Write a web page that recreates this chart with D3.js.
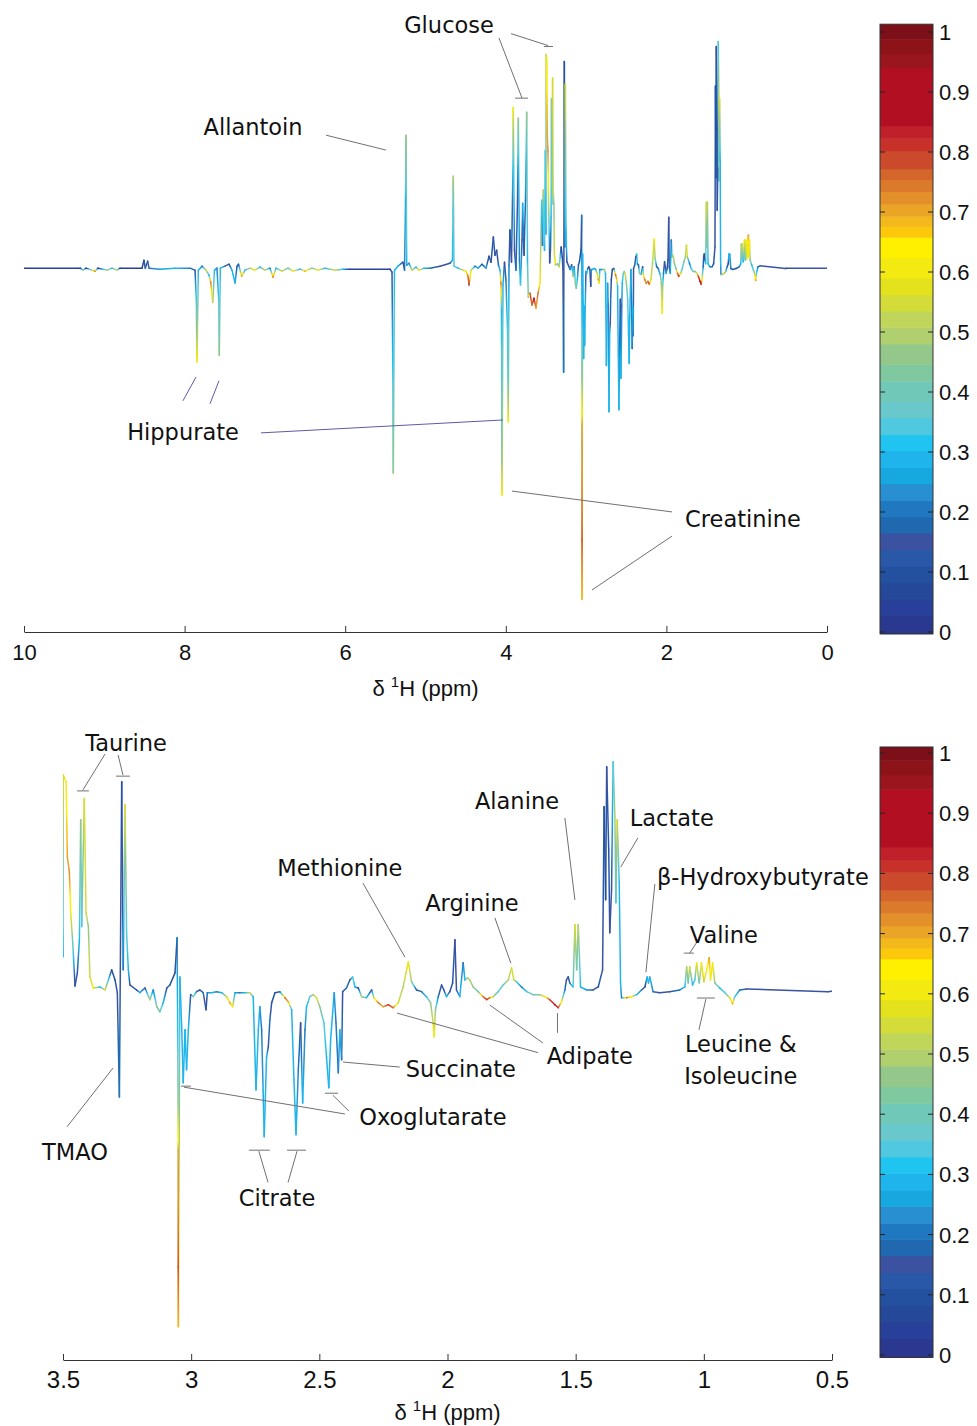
<!DOCTYPE html>
<html>
<head>
<meta charset="utf-8">
<script src="https://cdn.jsdelivr.net/npm/d3@7"></script>
<style>
  body { margin: 0; background: #fff; }
  svg { display: block; font-family: "Liberation Sans", Arial, sans-serif; }
  .note { font-family: "DejaVu Sans", sans-serif; font-size: 22.5px; fill: #111; }
</style>
</head>
<body>
<svg id="chart" width="977" height="1426"></svg>
<script>
// spectrum points: [ppm, intensity (creatinine trough = -100), correlation]
const aromatic = [
  [10.0, 0, .05], [9.30, 0, .05], [9.265, -0.6, .5], [9.228, 0, .05], [9.116, -0.9, .75], [9.078, 0, .05],
  [8.966, -0.6, .5], [8.904, 0, .3], [8.842, -0.6, .55], [8.804, 0, .05], [8.53, 0, .05], [8.506, 2.4, .1],
  [8.49, 0, .15], [8.46, 2.1, .1], [8.443, 0, .2], [8.306, -0.3, .25], [8.12, 0, .3], [7.933, 0, .2],
  [7.87, -0.6, .15], [7.854, -9.7, .35], [7.849, -21.8, .5], [7.846, -28.4, .62], [7.829, -0.6, .3],
  [7.783, 0.6, .2], [7.733, -0.6, .55], [7.696, -2.1, .3], [7.675, -4.2, .75], [7.65, -10.3, .5],
  [7.628, -0.6, .3], [7.597, 0, .2], [7.575, -9.7, .35], [7.568, -26.3, .45], [7.555, 0, .3],
  [7.497, 0.6, .2], [7.447, 1.2, .1], [7.41, -0.6, .3], [7.372, -4.5, .3], [7.347, 0.6, .15],
  [7.329, 1.2, .1], [7.289, -2.4, .72], [7.248, -0.6, .3], [7.186, 0, .5], [7.124, -0.6, .6],
  [7.061, 0.3, .3], [6.999, -0.6, .55], [6.937, 0, .2], [6.899, -2.7, .75], [6.862, 0, .3],
  [6.787, -0.9, .55], [6.712, 0, .4], [6.65, -0.9, .6], [6.563, -0.3, .3], [6.501, -0.9, .7],
  [6.413, 0, .4], [6.339, -0.6, .6], [6.252, 0, .3], [6.127, -0.6, .55], [6.027, -0.3, .3],
  [5.94, -0.3, .05], [5.442, -0.3, .05]
];

const sugars = [
  [5.417, -1.2, .15], [5.409, -24.8, .3], [5.405, -45.9, .4], [5.401, -61.9, .45], [5.386, -0.6, .3],
  [5.343, 0.6, .3], [5.28, 1.8, .1], [5.261, -0.6, .2], [5.249, 20.5, .3], [5.243, 40.2, .45],
  [5.234, 0.9, .3], [5.206, 1.5, .15], [5.168, -0.6, .55], [5.118, 0.3, .3], [5.081, -0.6, .6],
  [5.019, 0, .3], [4.944, 0, .2], [4.819, 0.6, .15], [4.695, 1.5, .15], [4.664, 2.4, .3],
  [4.658, 17.5, .35], [4.654, 27.8, .5], [4.645, 0.6, .35], [4.595, 0, .3], [4.533, -0.6, .55],
  [4.496, -0.9, .6], [4.471, -2.4, .75], [4.458, -5.1, .78], [4.433, -0.6, .55], [4.384, 0.6, .2],
  [4.346, 0, .3], [4.296, 1.2, .15], [4.246, 0, .25], [4.209, 3.6, .1], [4.184, 1.8, .15],
  [4.155, 9.4, .1], [4.135, 3.9, .15], [4.114, 5.4, .1], [4.091, 0.9, .2], [4.072, -0.6, .3],
  [4.06, -4.5, .75], [4.054, -12.7, .3], [4.051, -32.9, .35], [4.05, -58.9, .45], [4.047, -68.6, .62],
  [4.035, -5.1, .3], [4.016, 1.8, .15], [3.998, -3.6, .2], [3.979, -18.7, .35], [3.973, -32.9, .35],
  [3.969, -46.5, .6], [3.96, 0.9, .2], [3.948, 11.5, .1], [3.929, 1.8, .15], [3.917, 20.5, .2],
  [3.91, 32.6, .35], [3.907, 48.6, .6], [3.892, 5.4, .15], [3.873, -0.6, .2], [3.854, 20.5, .15],
  [3.844, 45.3, .45], [3.83, 2.4, .2], [3.817, -5.1, .35], [3.798, 8.5, .15], [3.79, 19.6, .3],
  [3.773, 3.9, .15], [3.755, 20.5, .2], [3.74, 47.1, .45], [3.73, 2.4, .3], [3.72, -8.8, .45],
  [3.699, -7.6, .8], [3.674, -11.2, .75], [3.649, -9.1, .85], [3.624, -12.1, .7], [3.599, -7.6, .75],
  [3.574, -4.5, .6], [3.553, 20.5, .35], [3.543, 6.9, .2], [3.533, 23.6, .5], [3.518, 5.4, .3],
  [3.508, 35.6, .35]
];

const aliphatic = [
  [3.500, 10.3, .3], [3.499, 64.6, .55], [3.488, 62.5, .62], [3.483, 40.1, .7], [3.475, 35.4, .72],
  [3.470, 23.4, .6], [3.462, 14.5, .4], [3.453, 1.6, .1], [3.444, 5.5, .15], [3.436, 15.4, .3],
  [3.431, 51.2, .45], [3.427, 19.3, .35], [3.417, 57.5, .55], [3.410, 23.4, .55], [3.401, 19.3, .45],
  [3.395, 4.3, .55], [3.382, 1.0, .6], [3.356, 1.3, .3], [3.336, 0.4, .55], [3.310, 6.4, .1],
  [3.297, 3.4, .1], [3.288, -0.4, .15], [3.280, -31.5, .2], [3.271, 62.5, .1], [3.265, 6.4, .2],
  [3.258, 55.7, .55], [3.252, 17.5, .35], [3.245, 6.4, .3], [3.239, 1.9, .15], [3.213, 0.4, .1],
  [3.200, -0.4, .3], [3.180, 1.0, .15], [3.161, -2.5, .5], [3.148, 0.4, .2], [3.134, -4.6, .45],
  [3.122, -6.1, .4], [3.109, -3.4, .3], [3.095, 1.0, .15], [3.083, 1.9, .1], [3.063, 5.5, .1],
  [3.055, 16.0, .2], [3.052, -17.5, .35], [3.051, -33.3, .45], [3.0508, -47.3, .7], [3.0506, -82.2, .78],
  [3.050, -100.1, .68], [3.044, 4.3, .3], [3.037, -10.6, .3], [3.031, -27.3, .3], [3.024, -11.5, .3],
  [3.018, -23.4, .3], [3.011, -11.5, .3], [3.002, -1.0, .15], [2.992, -1.6, .45], [2.979, -0.1, .2],
  [2.966, 0.4, .1], [2.953, -0.4, .2], [2.942, -5.5, .1], [2.937, -0.4, .2], [2.920, -0.4, .3],
  [2.901, -0.1, .2], [2.881, -0.4, .3], [2.862, -1.6, .55], [2.849, -3.4, .7], [2.838, -4.6, .6],
  [2.829, -0.4, .25], [2.810, -0.4, .2], [2.790, -0.4, .3], [2.771, -0.4, .55], [2.758, -1.6, .3],
  [2.747, -29.4, .3], [2.738, -11.5, .3], [2.732, -4.6, .25], [2.725, -11.5, .2], [2.715, -43.4, .3],
  [2.706, -19.6, .3], [2.699, -16.6, .15], [2.693, -8.5, .2], [2.686, -3.4, .1], [2.673, -0.4, .1],
  [2.654, -0.1, .2], [2.634, -1.9, .75], [2.621, -3.1, .7], [2.608, -5.5, .3], [2.599, -26.4, .3],
  [2.591, -42.8, .3], [2.582, -23.4, .2], [2.573, -9.4, .15], [2.565, -33.3, .3], [2.556, -11.5, .2],
  [2.550, -4.6, .3], [2.537, -1.6, .35], [2.524, -1.0, .5], [2.511, -1.9, .55], [2.498, -4.6, .45],
  [2.482, -9.4, .35], [2.472, -19.6, .3], [2.463, -28.8, .3], [2.456, -14.5, .3], [2.448, -6.4, .3],
  [2.442, -0.4, .25], [2.435, -9.4, .2], [2.426, -24.3, .2], [2.420, -11.5, .3], [2.413, -20.4, .2],
  [2.409, -0.1, .15], [2.394, 1.0, .2], [2.381, 3.4, .15], [2.370, 4.3, .35], [2.361, 1.3, .3],
  [2.348, 1.0, .1], [2.335, -1.6, .5], [2.316, -1.9, .3], [2.296, 0.4, .15], [2.287, -1.9, .55],
  [2.270, -3.4, .75], [2.251, -4.6, .7], [2.231, -4.0, .8], [2.212, -4.9, .75], [2.192, -3.4, .55],
  [2.173, 1.3, .5], [2.153, 8.8, .6], [2.140, 2.8, .45], [2.121, 0.4, .15], [2.101, -0.1, .2],
  [2.082, -1.6, .3], [2.066, -3.4, .45], [2.056, -9.4, .55], [2.052, -13.6, .62], [2.047, -5.5, .45],
  [2.036, -1.6, .2], [2.023, 1.9, .1], [2.014, 0.4, .15], [2.004, -1.6, .3], [1.991, -0.1, .15],
  [1.980, 2.5, .1], [1.971, 15.4, .15], [1.965, 0.4, .15], [1.952, -1.6, .3], [1.939, 8.5, .2],
  [1.932, 3.4, .3], [1.922, 4.0, .5], [1.913, 3.4, .5], [1.900, 1.3, .45], [1.880, -0.1, .4],
  [1.861, -1.6, .75], [1.847, -2.5, .8], [1.835, -1.9, .75], [1.822, -1.6, .5], [1.802, -0.1, .35],
  [1.783, 1.9, .4], [1.763, 3.4, .5], [1.750, 7.0, .55], [1.741, 3.4, .55], [1.730, 2.8, .35],
  [1.711, 1.3, .2], [1.691, -0.1, .35], [1.666, -1.0, .4], [1.640, -1.0, .45], [1.620, -1.6, .6],
  [1.601, -2.5, .8], [1.581, -4.0, .85], [1.568, -4.9, .8], [1.555, -3.1, .6], [1.542, 0.4, .2],
  [1.536, 3.4, .15], [1.529, 4.3, .1], [1.523, 2.5, .2], [1.510, 1.3, .35], [1.503, 19.9, .55],
  [1.496, 6.4, .4], [1.490, 19.9, .5], [1.481, 1.3, .3], [1.457, 0.4, .25], [1.432, 0.4, .15],
  [1.412, 1.3, .1], [1.395, 6.4, .15], [1.389, 55.1, .1], [1.383, 27.3, .1], [1.379, 67.0, .15],
  [1.371, 42.2, .1], [1.367, 17.5, .15], [1.360, 30.3, .15], [1.354, 68.5, .35], [1.347, 52.1, .5],
  [1.343, 26.4, .35], [1.338, 51.2, .55], [1.330, 32.4, .3], [1.325, 2.5, .3], [1.321, -1.9, .2],
  [1.302, -1.9, .75], [1.282, -1.6, .6], [1.262, -1.0, .3], [1.243, 0.4, .2], [1.230, 1.3, .1],
  [1.221, 4.3, .3], [1.216, 2.5, .3], [1.211, 4.3, .3], [1.198, -0.1, .2], [1.172, -0.4, .15],
  [1.133, -0.1, .15], [1.094, 0.4, .2], [1.074, 1.3, .3], [1.067, 7.3, .5], [1.061, 2.5, .4],
  [1.055, 7.3, .55], [1.044, 1.9, .3], [1.035, 3.4, .35], [1.028, 8.5, .6], [1.018, 2.5, .4],
  [1.009, 8.5, .6], [1.000, 2.8, .55], [0.989, 6.4, .6], [0.979, 10.0, .7], [0.974, 3.4, .6],
  [0.966, 8.5, .6], [0.957, 2.5, .45], [0.938, 1.0, .3], [0.918, -0.4, .35], [0.899, -1.9, .55],
  [0.888, -3.7, .7], [0.879, -1.6, .35], [0.860, 0.4, .2], [0.833, 0.7, .15], [0.516, -0.1, .15]
];

const upfield = [[0.5, 0, .15], [0.0, 0, .15]];

const topTicks = [10, 8, 6, 4, 2, 0];
const bottomTicks = [3.5, 3, 2.5, 2, 1.5, 1, 0.5];
const colorTicks = [0, 0.1, 0.2, 0.3, 0.4, 0.5, 0.6, 0.7, 0.8, 0.9, 1];

// labels: anchor and leader ends in [ppm, intensity]
const topNotes = [
  { text: 'Glucose', at: [4.707, 73.5], lines: [[3.935, 70.9, 3.474, 67.3], [4.085, 69.6, 3.798, 51.4]], bars: [[3.524, 3.412, 67.0], [3.885, 3.723, 51.4]] },
  { text: 'Allantoin', at: [7.148, 42.7], lines: [[6.239, 40.2, 5.492, 35.7]] },
  { text: 'Hippurate', at: [8.02, -49.5], lines: [[8.02, -40.1, 7.858, -32.9], [7.684, -41.0, 7.572, -34.1], [7.049, -49.8, 4.035, -45.9]] },
  { text: 'Creatinine', at: [1.046, -75.8], lines: [[1.93, -73.7, 3.923, -67.4], [1.93, -81.0, 2.927, -97.3]] }
];

const bottomNotes = [
  { text: 'Taurine', at: [3.254, 74.0], lines: [[3.336, 70.8, 3.422, 60.1], [3.285, 70.5, 3.266, 64.5]], bars: [[3.445, 3.399, 59.8], [3.293, 3.239, 64.2]] },
  { text: 'TMAO', at: [3.453, -48.0], lines: [[3.484, -40.4, 3.305, -22.9]] },
  { text: 'Methionine', at: [2.42, 36.8], lines: [[2.33, 32.3, 2.166, 10.2]] },
  { text: 'Arginine', at: [1.905, 26.4], lines: [[1.815, 21.9, 1.753, 8.4]] },
  { text: 'Alanine', at: [1.729, 56.8], lines: [[1.542, 51.7, 1.503, 27.3]] },
  { text: 'Lactate', at: [1.125, 51.7], lines: [[1.257, 45.8, 1.324, 37.1]] },
  { text: 'β-Hydroxybutyrate', at: [1.183, 34.1], start: true, lines: [[1.191, 32.0, 1.226, 5.7]] },
  { text: 'Valine', at: [0.922, 16.8], lines: [[1.027, 14.7, 1.055, 11.4]], bars: [[1.078, 1.039, 11.4]] },
  { text: 'Leucine &', at: [0.856, -15.7], lines: [[0.992, -2.3, 1.019, -11.5]], bars: [[1.027, 0.957, -2.0]] },
  { text: 'Isoleucine', at: [0.856, -25.3] },
  { text: 'Succinate', at: [1.948, -23.0], lines: [[2.186, -22.6, 2.408, -21.1]] },
  { text: 'Adipate', at: [1.445, -19.2], lines: [[1.647, -18.3, 2.197, -6.5], [1.628, -15.4, 1.835, -4.1], [1.571, -6.5, 1.571, -12.4]] },
  { text: 'Oxoglutarate', at: [2.057, -37.6], lines: [[2.385, -35.7, 2.447, -31.0], [2.4, -36.6, 3.028, -28.6]], bars: [[2.478, 2.427, -30.4], [3.04, 3.001, -28.3]] },
  { text: 'Citrate', at: [2.665, -61.7], lines: [[2.736, -47.7, 2.7, -57.0], [2.587, -47.7, 2.622, -57.0]], bars: [[2.775, 2.693, -47.4], [2.626, 2.552, -47.4]] }
];

// colour map (band start value, colour)
const cmapStops = [
  [0, '#2a3890'], [0.027, '#28409a'], [0.055, '#264898'], [0.082, '#2450a0'], [0.11, '#2a58a8'],
  [0.137, '#3a52a0'], [0.165, '#2068b0'], [0.192, '#2078c0'], [0.219, '#2890d0'], [0.247, '#18a8e0'],
  [0.274, '#20b4ec'], [0.302, '#20c4f0'], [0.329, '#50c8e0'], [0.357, '#68c8cc'], [0.384, '#70c8b8'],
  [0.418, '#80c8a0'], [0.446, '#94c88a'], [0.48, '#b0d070'], [0.508, '#c0d65a'], [0.535, '#d4dc3a'],
  [0.562, '#e4e21c'], [0.59, '#f2ea10'], [0.624, '#fff000'], [0.658, '#fcc80c'], [0.676, '#f2b81c'],
  [0.693, '#eaa526'], [0.713, '#e4902a'], [0.734, '#dc7a2c'], [0.754, '#d4662c'], [0.772, '#cc4a2c'],
  [0.802, '#c8302a'], [0.823, '#c0202a'], [0.844, '#b30f22'], [0.94, '#9a151e'], [0.964, '#8c1419'],
  [0.988, '#7d0f18']
];
const cmap = d3.scaleThreshold()
  .domain(cmapStops.slice(1).map(d => d[0]))
  .range(cmapStops.map(d => d[1]));

const spectrum = [...aromatic, ...sugars, ...aliphatic, ...upfield];
const yDomain = [-110, 72];

const panels = [
  { id: 'top', xDomain: [10, 0], xRange: [24, 827], yRange: [632, 30], ticks: topTicks, tickFont: 22, tickPad: 12,
    titleDy: 64, cbRange: [632, 32], cbBox: [-0.003, 1.013], notes: topNotes },
  { id: 'bot', xDomain: [3.5, 0.5], xRange: [63, 832], yRange: [1360, 750], ticks: bottomTicks, tickFont: 24, tickPad: 11,
    titleDy: 60, cbRange: [1355, 753], cbBox: [-0.004, 1.01], notes: bottomNotes }
];

const svg = d3.select('#chart');
const defs = svg.append('defs');
const cbX = 880, cbW = 53;

panels.forEach(p => {
  const x = d3.scaleLinear().domain(p.xDomain).range(p.xRange);
  const y = d3.scaleLinear().domain(yDomain).range(p.yRange);

  defs.append('clipPath').attr('id', `clip-${p.id}`)
    .append('rect')
    .attr('x', p.xRange[0]).attr('y', 0)
    .attr('width', p.xRange[1] - p.xRange[0]).attr('height', 1426);

  // coloured spectrum: one segment per pair, longest drawn first so detail stays on top
  const pts = spectrum.map(d => ({ x: x(d[0]), y: y(d[1]), r: d[2] }));
  const segs = d3.pairs(pts)
    .map(([a, b], i) => ({ a, b, i, len: Math.hypot(b.x - a.x, b.y - a.y) }))
    .filter(s => s.len > 0)
    .sort((s, t) => t.len - s.len);

  const g = svg.append('g').attr('clip-path', `url(#clip-${p.id})`);
  segs.forEach(s => {
    let stroke = cmap((s.a.r + s.b.r) / 2);
    if (s.len > 3 && cmap(s.a.r) !== cmap(s.b.r)) {
      const gid = `g-${p.id}-${s.i}`;
      const grad = defs.append('linearGradient').attr('id', gid)
        .attr('gradientUnits', 'userSpaceOnUse')
        .attr('x1', s.a.x).attr('y1', s.a.y).attr('x2', s.b.x).attr('y2', s.b.y);
      d3.range(6).forEach(k => {
        const t = k / 5;
        grad.append('stop').attr('offset', t).attr('stop-color', cmap(s.a.r + (s.b.r - s.a.r) * t));
      });
      stroke = `url(#${gid})`;
    }
    g.append('line')
      .attr('x1', s.a.x).attr('y1', s.a.y).attr('x2', s.b.x).attr('y2', s.b.y)
      .attr('stroke', stroke).attr('stroke-width', 1.5).attr('stroke-linecap', 'round');
  });

  // x axis
  const axis = d3.axisBottom(x).tickValues(p.ticks)
    .tickSizeInner(-6).tickSizeOuter(0).tickPadding(p.tickPad)
    .tickFormat(d => String(d));
  const ga = svg.append('g').attr('transform', `translate(0,${p.yRange[0]})`).call(axis);
  ga.select('.domain').attr('stroke', '#333');
  ga.selectAll('.tick line').attr('stroke', '#333');
  ga.selectAll('.tick text').attr('font-size', p.tickFont).attr('fill', '#111')
    .attr('font-family', '"Liberation Sans", Arial, sans-serif');

  const title = svg.append('text')
    .attr('x', (p.xRange[0] + p.xRange[1]) / 2).attr('y', p.yRange[0] + p.titleDy)
    .attr('text-anchor', 'middle').attr('font-size', 22).attr('fill', '#111');
  title.append('tspan').text('δ ');
  title.append('tspan').attr('dy', -9).attr('font-size', 15).text('1');
  title.append('tspan').attr('dy', 9).text('H (ppm)');

  // colour bar
  const cs = d3.scaleLinear().domain([0, 1]).range(p.cbRange);
  const cb = svg.append('g');
  cmapStops.forEach((d, i) => {
    const lo = i === 0 ? p.cbBox[0] : d[0];
    const hi = i < cmapStops.length - 1 ? cmapStops[i + 1][0] : p.cbBox[1];
    cb.append('rect').attr('x', cbX).attr('width', cbW)
      .attr('y', cs(hi)).attr('height', cs(lo) - cs(hi) + 0.5)
      .attr('fill', d[1]);
  });
  cb.append('rect').attr('x', cbX).attr('width', cbW)
    .attr('y', cs(p.cbBox[1])).attr('height', cs(p.cbBox[0]) - cs(p.cbBox[1]))
    .attr('fill', 'none').attr('stroke', '#333').attr('stroke-width', 1);
  colorTicks.forEach(t => {
    cb.append('line').attr('x1', cbX).attr('x2', cbX + 5).attr('y1', cs(t)).attr('y2', cs(t))
      .attr('stroke', '#222');
    cb.append('line').attr('x1', cbX + cbW - 5).attr('x2', cbX + cbW).attr('y1', cs(t)).attr('y2', cs(t))
      .attr('stroke', '#222');
    cb.append('text').attr('x', cbX + cbW + 6).attr('y', cs(t)).attr('dy', '0.36em')
      .attr('font-size', 22).attr('fill', '#111').text(String(+t.toFixed(1)));
  });

  // annotations
  const leader = n => n.text === 'Hippurate' ? '#5b5bab' : '#707070';
  const gn = svg.append('g');
  p.notes.forEach(n => {
    (n.lines || []).forEach(l => {
      gn.append('line').attr('x1', x(l[0])).attr('y1', y(l[1])).attr('x2', x(l[2])).attr('y2', y(l[3]))
        .attr('stroke', leader(n)).attr('stroke-width', 1);
    });
    (n.bars || []).forEach(b => {
      gn.append('line').attr('x1', x(b[0])).attr('x2', x(b[1])).attr('y1', y(b[2])).attr('y2', y(b[2]))
        .attr('stroke', leader(n)).attr('stroke-width', 1);
    });
    gn.append('text').attr('class', 'note')
      .attr('x', x(n.at[0])).attr('y', y(n.at[1])).attr('dy', '0.36em')
      .attr('text-anchor', n.start ? 'start' : 'middle')
      .text(n.text);
  });
});
</script>
</body>
</html>
